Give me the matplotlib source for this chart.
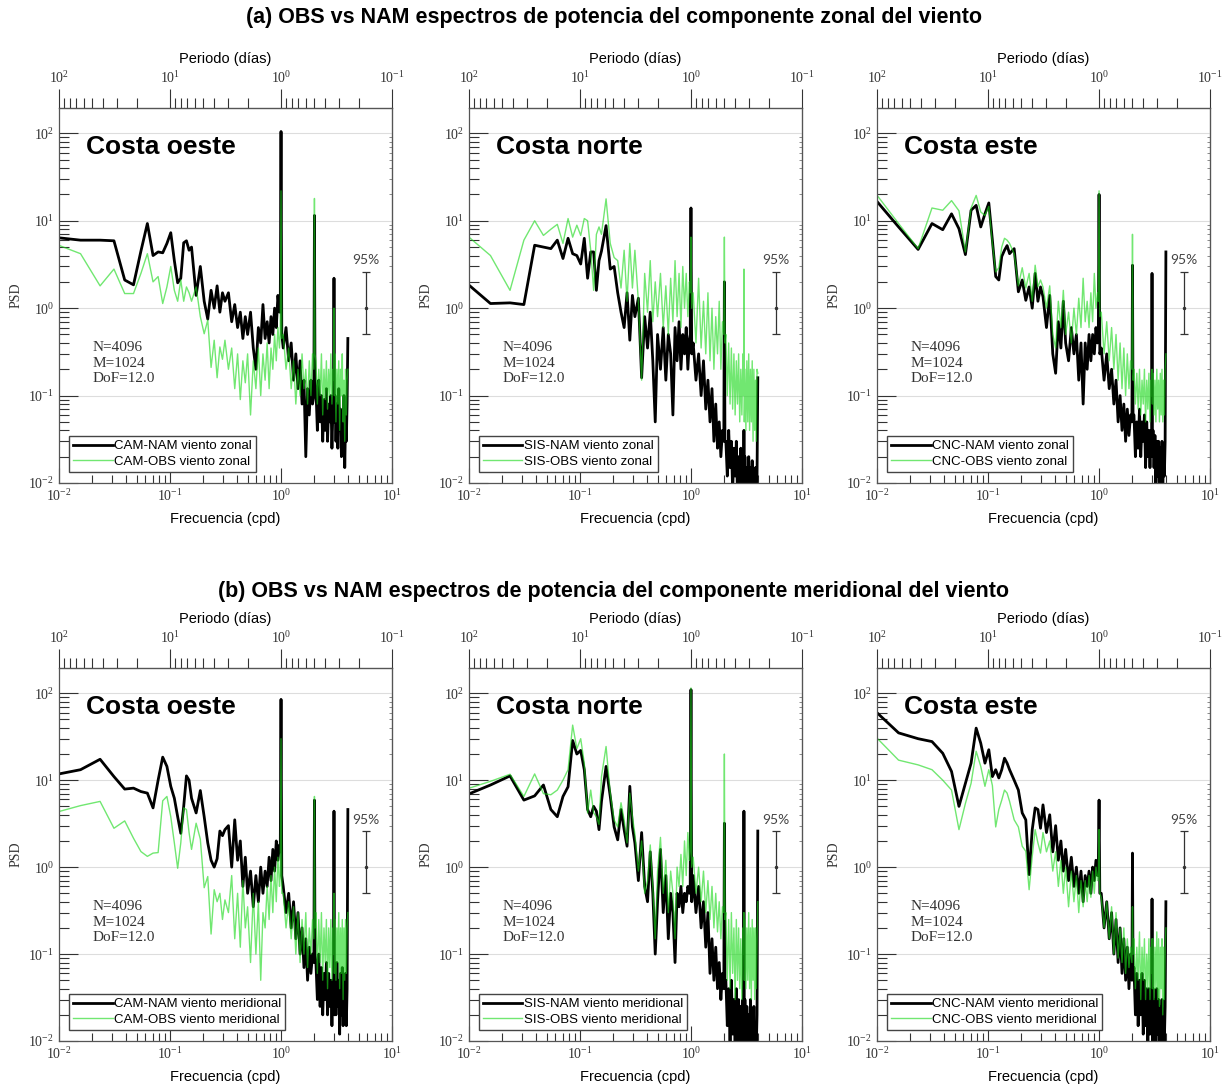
import numpy as np
import matplotlib.pyplot as plt
from matplotlib.ticker import NullFormatter, FixedLocator

plt.rcParams['font.family'] = 'Liberation Serif'
plt.rcParams['mathtext.fontset'] = 'stix'

SANS = 'Liberation Sans'

# spectral bins k/128 cpd (segments of M=1024 samples, 8 samples per day)
K = np.r_[1:21, 22:41:2,
          [43, 46, 49, 52, 55, 58, 61, 64, 68, 72, 76, 80, 84, 88, 92, 96, 100, 104, 108, 112, 116, 120, 124],
          126, 128, 130, 134:247:8, 253, 256, 259, 264:377:8, 381, 384, 387, 392:513:8]
freq = K / 128.0

# --- zonal wind -------------------------------------------------------------
cam_nam_u = [6.6, 6.0, 6.0, 5.9, 2.1, 1.85, 4.5, 9.3, 4.0, 4.4, 4.3, 5.5, 7.3, 3.5, 1.95, 2.2, 5.6, 5.9, 4.6, 5.0,
             1.4, 3.0, 1.2, 0.75, 1.6, 1.0, 1.8, 0.9, 1.5, 1.2,
             1.5, 0.7, 1.1, 0.6, 0.9, 0.45, 0.8, 0.5, 0.9, 0.35, 0.2, 0.6, 0.4, 1.1, 0.45, 0.7, 0.4, 0.8, 0.5, 1.0, 0.6, 1.4, 0.9,
             1.0, 105, 0.5,
             0.35, 0.6, 0.25, 0.4, 0.15, 0.3, 0.12, 0.25, 0.08, 0.15, 0.02, 0.12, 0.06, 0.15, 0.08,
             0.1, 11.5, 0.15,
             0.12, 0.04, 0.15, 0.05, 0.1, 0.03, 0.09, 0.04, 0.12, 0.03, 0.08, 0.05, 0.1, 0.025, 0.07,
             0.06, 2.2, 0.05,
             0.1, 0.03, 0.08, 0.025, 0.12, 0.04, 0.07, 0.02, 0.06, 0.03, 0.1, 0.015, 0.05, 0.03, 0.08, 0.45]
cam_obs_u = [5.9, 4.2, 1.8, 2.8, 1.47, 1.47, 2.5, 4.2, 2.0, 2.3, 1.13, 1.75, 3.0, 1.6, 1.2, 2.1, 1.2, 1.75, 1.5, 1.2,
             1.75, 0.8, 0.51, 0.73, 0.21, 0.43, 0.16, 0.36, 0.26, 0.43,
             0.2, 0.35, 0.12, 0.3, 0.09, 0.25, 0.14, 0.3, 0.06, 0.25, 0.12, 0.35, 0.1, 0.3, 0.15, 0.4, 0.12, 0.35, 0.2, 0.5, 0.25, 0.6, 0.35,
             0.5, 22, 0.45,
             0.5, 0.2, 0.35, 0.12, 0.25, 0.08, 0.2, 0.1, 0.3, 0.12, 0.2, 0.08, 0.25, 0.1, 0.3,
             0.2, 18, 0.3,
             0.25, 0.08, 0.2, 0.1, 0.3, 0.06, 0.2, 0.09, 0.25, 0.07, 0.2, 0.1, 0.3, 0.08, 0.2,
             0.15, 1.0, 0.1,
             0.3, 0.05, 0.2, 0.08, 0.25, 0.04, 0.2, 0.1, 0.3, 0.05, 0.15, 0.03, 0.2, 0.06, 0.15, 0.2]

sis_nam_u = [2.4, 1.13, 1.15, 1.1, 5.25, 5.0, 4.8, 6.0, 3.7, 6.3, 4.2, 4.0, 3.2, 6.3, 2.2, 4.4, 4.4, 1.6, 3.5, 4.5,
             8.8, 2.8, 3.0, 1.5, 0.9, 0.6, 1.5, 0.43, 1.4, 0.8,
             1.3, 0.16, 0.8, 0.35, 0.9, 0.25, 0.05, 0.5, 0.2, 0.6, 0.15, 0.5, 0.3, 0.06, 0.6, 0.25, 0.7, 0.2, 0.5, 0.3, 0.6, 0.2, 0.45,
             0.5, 14, 0.3,
             0.4, 0.15, 0.3, 0.1, 0.25, 0.07, 0.15, 0.05, 0.12, 0.03, 0.08, 0.025, 0.05, 0.02, 0.04,
             0.03, 2.0, 0.03,
             0.03, 0.012, 0.04, 0.015, 0.03, 0.008, 0.025, 0.012, 0.03, 0.007, 0.02, 0.01, 0.025, 0.008, 0.02,
             0.01, 0.04, 0.01,
             0.02, 0.008, 0.015, 0.007, 0.02, 0.009, 0.015, 0.006, 0.018, 0.008, 0.012, 0.006, 0.015, 0.007, 0.012, 0.16]
sis_obs_u = [8.5, 4.0, 1.6, 6.0, 10, 6.8, 8.0, 9.1, 5.5, 10.6, 6.5, 8.9, 6.8, 10.6, 10, 4.6, 1.6, 7.0, 8.5, 7.0,
             17.8, 5.5, 3.8, 3.5, 1.7, 4.6, 1.2, 5.5, 1.7, 4.6,
             1.2, 0.15, 2.5, 0.9, 3.5, 0.7, 2.0, 0.8, 2.5, 0.6, 1.8, 0.5, 2.2, 0.7, 3.5, 0.8, 2.5, 0.6, 3.0, 1.0, 2.5, 0.8, 2.0,
             1.5, 6.5, 1.0,
             1.5, 0.4, 2.2, 0.35, 1.2, 0.3, 1.5, 0.25, 1.0, 0.2, 0.8, 0.3, 1.2, 0.2, 0.7,
             0.5, 6.5, 0.4,
             0.5, 0.1, 0.4, 0.08, 0.35, 0.07, 0.3, 0.06, 0.25, 0.08, 0.3, 0.05, 0.2, 0.06, 0.3,
             0.1, 2.8, 0.05,
             0.2, 0.04, 0.25, 0.05, 0.3, 0.04, 0.2, 0.05, 0.25, 0.03, 0.2, 0.04, 0.15, 0.03, 0.2, 0.18]

cnc_nam_u = [24, 8.5, 4.7, 9.3, 7.9, 12, 8.1, 4.1, 13.2, 15, 8.5, 12, 16, 6.0, 2.3, 2.1, 3.9, 4.6, 5.2, 4.2,
             4.8, 1.54, 2.1, 1.23, 1.75, 1.0, 2.5, 1.2, 1.75, 1.35,
             0.6, 1.4, 0.3, 0.18, 0.7, 0.35, 1.2, 0.4, 0.25, 0.6, 0.3, 0.5, 0.15, 0.4, 0.08, 0.4, 0.2, 0.5, 0.25, 0.5, 0.3, 0.6, 0.4,
             0.5, 20, 0.3,
             0.35, 0.15, 0.3, 0.12, 0.2, 0.08, 0.15, 0.05, 0.1, 0.04, 0.08, 0.03, 0.07, 0.035, 0.06,
             0.05, 3.1, 0.06,
             0.06, 0.02, 0.05, 0.025, 0.07, 0.02, 0.05, 0.03, 0.06, 0.015, 0.05, 0.02, 0.04, 0.015, 0.04,
             0.03, 2.5, 0.02,
             0.04, 0.015, 0.035, 0.01, 0.03, 0.012, 0.03, 0.008, 0.025, 0.01, 0.03, 0.009, 0.02, 0.012, 0.03, 4.4]
cnc_obs_u = [29.5, 9.3, 4.8, 14, 13.2, 17, 13, 4.4, 14, 19.5, 12.6, 11.5, 14.6, 5.5, 2.6, 2.9, 5.0, 6.3, 6.0, 5.5,
             4.2, 1.8, 2.9, 1.7, 2.5, 1.2, 3.1, 1.75, 2.1, 1.75,
             1.0, 1.8, 0.5, 0.35, 1.2, 0.6, 1.6, 0.5, 0.9, 0.4, 1.0, 0.5, 1.3, 0.6, 2.2, 0.7, 1.2, 0.6, 1.5, 0.7, 2.5, 1.0, 1.5,
             1.2, 22, 0.8,
             0.9, 0.3, 0.7, 0.25, 0.6, 0.2, 0.5, 0.15, 0.4, 0.12, 0.35, 0.1, 0.3, 0.12, 0.25,
             0.2, 7.0, 0.15,
             0.2, 0.08, 0.18, 0.07, 0.2, 0.06, 0.15, 0.08, 0.2, 0.05, 0.15, 0.07, 0.18, 0.05, 0.15,
             0.1, 0.2, 0.08,
             0.18, 0.06, 0.15, 0.05, 0.2, 0.07, 0.15, 0.05, 0.18, 0.06, 0.2, 0.05, 0.15, 0.06, 0.2, 0.3]

# --- meridional wind --------------------------------------------------------
cam_nam_v = [11.1, 13.2, 17.4, 11, 7.9, 8.1, 7.4, 7.1, 4.8, 10, 18.4, 14.4, 8.5, 6.2, 3.8, 2.45, 5.0, 11.2, 10, 6.2,
             4.2, 7.6, 3.8, 1.9, 1.2, 1.0, 1.25, 2.6, 2.3, 2.7,
             3.0, 1.0, 3.5, 1.2, 2.0, 0.6, 1.3, 0.5, 0.9, 0.35, 0.8, 0.4, 1.0, 0.5, 0.9, 0.6, 1.3, 0.7, 1.6, 0.9, 2.0, 1.2, 1.8,
             1.5, 85, 0.8,
             0.6, 0.3, 0.5, 0.2, 0.4, 0.15, 0.3, 0.1, 0.2, 0.07, 0.15, 0.05, 0.12, 0.06, 0.1,
             0.08, 5.9, 0.1,
             0.08, 0.03, 0.1, 0.025, 0.07, 0.02, 0.06, 0.03, 0.08, 0.02, 0.06, 0.025, 0.05, 0.015, 0.05,
             0.03, 4.4, 0.02,
             0.06, 0.02, 0.08, 0.025, 0.05, 0.012, 0.06, 0.02, 0.07, 0.015, 0.05, 0.02, 0.06, 0.015, 0.04, 4.6]
cam_obs_v = [4.0, 5.1, 5.7, 2.8, 3.4, 2.15, 1.51, 1.33, 1.45, 1.47, 5.8, 6.5, 3.8, 1.9, 0.97, 1.9, 4.8, 4.6, 2.5, 1.6,
             3.2, 2.1, 0.58, 0.78, 0.17, 0.55, 0.4, 0.5, 0.25, 0.42,
             0.3, 0.8, 0.15, 0.5, 0.12, 0.7, 0.2, 0.35, 0.08, 0.5, 0.1, 0.4, 0.05, 0.3, 0.2, 0.6, 0.25, 0.8, 0.3, 1.0, 0.4, 1.3, 0.6,
             0.8, 30, 0.5,
             0.5, 0.2, 0.4, 0.15, 0.35, 0.1, 0.3, 0.08, 0.25, 0.1, 0.3, 0.07, 0.2, 0.1, 0.25,
             0.15, 6.5, 0.2,
             0.3, 0.06, 0.25, 0.08, 0.3, 0.05, 0.2, 0.08, 0.25, 0.04, 0.2, 0.07, 0.25, 0.05, 0.2,
             0.1, 0.5, 0.06,
             0.25, 0.05, 0.2, 0.08, 0.3, 0.04, 0.2, 0.06, 0.25, 0.03, 0.2, 0.05, 0.25, 0.06, 0.2, 0.3]

sis_nam_v = [6.1, 8.8, 11.2, 5.9, 6.6, 8.8, 4.6, 3.8, 6.5, 8.4, 28.6, 20, 22, 13.2, 4.6, 3.8, 5.0, 4.4, 2.7, 5.7,
             14.4, 6.5, 2.9, 2.06, 4.6, 2.7, 1.74, 8.5, 2.9, 1.9,
             0.7, 2.5, 0.6, 0.4, 1.5, 0.5, 0.1, 0.4, 1.6, 0.3, 0.8, 0.15, 0.5, 0.3, 0.08, 0.5, 0.35, 0.6, 0.3, 0.5, 0.4, 0.6, 0.5,
             0.6, 110, 0.4,
             0.8, 0.3, 0.6, 0.2, 0.4, 0.12, 0.3, 0.06, 0.15, 0.05, 0.12, 0.04, 0.08, 0.03, 0.06,
             0.04, 3.2, 0.05,
             0.05, 0.015, 0.04, 0.01, 0.05, 0.012, 0.03, 0.008, 0.04, 0.01, 0.03, 0.008, 0.025, 0.01, 0.03,
             0.01, 4.4, 0.008,
             0.03, 0.008, 0.025, 0.006, 0.02, 0.007, 0.03, 0.005, 0.02, 0.007, 0.025, 0.006, 0.015, 0.008, 0.02, 2.6]
sis_obs_v = [7.3, 9.7, 11.7, 6.5, 11.8, 7.0, 6.8, 7.7, 10, 13.2, 43, 23, 30, 15.7, 4.2, 7.7, 4.2, 3.8, 3.1, 11,
             24.4, 7.1, 3.5, 2.9, 5.5, 3.5, 1.9, 7.1, 3.8, 2.4,
             0.9, 2.0, 0.5, 0.7, 1.8, 0.6, 0.15, 0.9, 2.2, 0.5, 1.2, 0.3, 0.9, 0.5, 0.15, 1.0, 0.6, 1.4, 0.6, 2.0, 0.8, 2.5, 1.2,
             1.5, 115, 1.0,
             1.3, 0.5, 1.0, 0.4, 0.9, 0.3, 0.7, 0.25, 0.6, 0.2, 0.5, 0.18, 0.4, 0.15, 0.35,
             0.3, 20, 0.25,
             0.3, 0.05, 0.25, 0.04, 0.3, 0.06, 0.2, 0.03, 0.25, 0.05, 0.2, 0.04, 0.15, 0.03, 0.2,
             0.1, 0.3, 0.05,
             0.25, 0.04, 0.2, 0.05, 0.3, 0.04, 0.2, 0.03, 0.25, 0.05, 0.2, 0.03, 0.2, 0.04, 0.15, 0.4]

cnc_nam_v = [80, 35, 30, 27.8, 20.4, 12.6, 5.0, 9.2, 15.7, 39.7, 26.6, 15.7, 22.4, 11, 13.2, 10.6, 13.2, 17.9, 15.7, 13.2,
             10, 7.7, 4.2, 3.5, 0.82, 2.7, 4.8, 4.6, 2.8, 5.2,
             2.5, 4.0, 1.5, 3.0, 1.2, 2.0, 0.9, 1.6, 0.7, 1.3, 0.6, 1.0, 0.5, 0.9, 0.4, 0.8, 0.6, 0.9, 0.5, 1.0, 0.7, 1.2, 0.8,
             1.0, 5.9, 0.5,
             0.5, 0.2, 0.4, 0.15, 0.3, 0.1, 0.25, 0.08, 0.2, 0.06, 0.15, 0.05, 0.12, 0.04, 0.1,
             0.05, 1.45, 0.06,
             0.07, 0.02, 0.06, 0.015, 0.05, 0.02, 0.06, 0.012, 0.05, 0.015, 0.04, 0.01, 0.04, 0.012, 0.03,
             0.015, 0.43, 0.01,
             0.04, 0.01, 0.03, 0.008, 0.04, 0.012, 0.03, 0.007, 0.025, 0.01, 0.03, 0.008, 0.02, 0.01, 0.025, 0.4]
cnc_obs_v = [42, 17, 15, 13.2, 10, 7.7, 2.7, 5.4, 9.2, 21.5, 14.4, 8.5, 13.2, 8.7, 2.9, 4.6, 5.9, 7.7, 7.1, 5.7,
             3.5, 2.9, 1.74, 1.52, 0.55, 1.33, 2.7, 1.9, 1.45, 2.5,
             1.5, 2.0, 0.9, 1.5, 0.6, 1.2, 0.5, 1.0, 0.35, 0.9, 0.4, 0.8, 0.3, 0.7, 0.35, 0.7, 0.4, 0.8, 0.45, 0.9, 0.5, 1.0, 0.7,
             0.8, 2.7, 0.5,
             0.45, 0.2, 0.4, 0.15, 0.35, 0.1, 0.3, 0.09, 0.2, 0.08, 0.2, 0.06, 0.15, 0.07, 0.12,
             0.08, 0.35, 0.1,
             0.15, 0.04, 0.12, 0.05, 0.18, 0.03, 0.12, 0.05, 0.15, 0.03, 0.1, 0.04, 0.15, 0.03, 0.12,
             0.06, 0.15, 0.04,
             0.15, 0.03, 0.12, 0.04, 0.18, 0.03, 0.15, 0.025, 0.12, 0.04, 0.15, 0.02, 0.12, 0.03, 0.1, 0.2]

stations = ['CAM', 'SIS', 'CNC']
coasts = ['Costa oeste', 'Costa norte', 'Costa este']
components = ['zonal', 'meridional']
row_titles = ['(a) OBS vs NAM espectros de potencia del componente zonal del viento',
              '(b) OBS vs NAM espectros de potencia del componente meridional del viento']
nam_series = [[cam_nam_u, sis_nam_u, cnc_nam_u], [cam_nam_v, sis_nam_v, cnc_nam_v]]
obs_series = [[cam_obs_u, sis_obs_u, cnc_obs_u], [cam_obs_v, sis_obs_v, cnc_obs_v]]

# 95% confidence interval for DoF=12, drawn around PSD=1
ci_freq = 5.8
ci_low, ci_mid, ci_high = 0.51, 1.0, 2.6
stats_text = 'N=4096\nM=1024\nDoF=12.0'
period_ticks = [100, 10, 1, 0.1]

OBS_COLOR = (0.1, 0.85, 0.1)
TXT = '#333333'


def inv(x):
    x = np.asarray(x, dtype=float)
    with np.errstate(divide='ignore'):
        return 1.0 / x


fig = plt.figure(figsize=(12.27, 10.91), dpi=100)
lefts = [0.0481, 0.3822, 0.7148]
bottoms = [0.5573, 0.0458]
width = 0.2714
heights = [0.3437, 0.3419]

for r in range(2):
    for c in range(3):
        ax = fig.add_axes([lefts[c], bottoms[r], width, heights[r]])
        ax.set_xscale('log')
        ax.set_yscale('log')

        ax.plot(freq, nam_series[r][c], color='black', lw=2.0,
                label=f'{stations[c]}-NAM viento {components[r]}')
        ax.plot(freq, obs_series[r][c], color=OBS_COLOR, alpha=0.62, lw=1.0,
                label=f'{stations[c]}-OBS viento {components[r]}')

        ax.set_xlim(1e-2, 1e1)
        ax.set_ylim(1e-2, 195)
        ax.yaxis.grid(True, which='major', color='#dddddd', lw=0.8)
        ax.set_axisbelow(True)

        for sp in ax.spines.values():
            sp.set_color('#555555')
            sp.set_linewidth(0.9)

        ax.tick_params(which='both', direction='in', width=0.8, colors=TXT,
                       labelsize=10, top=False, right=False)
        ax.tick_params(axis='x', which='major', length=11)
        ax.tick_params(axis='x', which='minor', length=6)
        ax.tick_params(axis='y', which='major', length=14)
        ax.tick_params(axis='y', which='minor', length=7)
        ax.xaxis.set_minor_formatter(NullFormatter())
        ax.yaxis.set_minor_formatter(NullFormatter())

        # period axis on top
        sec = ax.secondary_xaxis('top', functions=(inv, inv))
        sec.xaxis.set_major_locator(FixedLocator(period_ticks))
        sec.tick_params(which='both', direction='out', width=0.8, colors=TXT,
                        labelsize=10, pad=2)
        sec.tick_params(which='major', length=14)
        sec.tick_params(which='minor', length=7)
        sec.xaxis.set_minor_formatter(NullFormatter())
        sec.set_xlabel('Periodo (días)', fontfamily=SANS, fontsize=10.5,
                       color='black', labelpad=5)

        # short ticks on the right edge
        ry = ax.secondary_yaxis('right')
        ry.tick_params(which='both', direction='in', width=0.6,
                       colors='#777777', labelright=False)
        ry.tick_params(which='major', length=3)
        ry.tick_params(which='minor', length=2)
        ry.yaxis.set_minor_formatter(NullFormatter())
        ry.spines['right'].set_color('#555555')

        ax.set_xlabel('Frecuencia (cpd)', fontfamily=SANS, fontsize=10.5, labelpad=6)
        ax.set_ylabel('PSD', fontsize=10, color=TXT, labelpad=4)

        ax.text(0.08, 0.895, coasts[c], transform=ax.transAxes, fontfamily=SANS,
                fontweight='bold', fontsize=19, va='center', ha='left')
        ax.text(0.1, 0.378, stats_text, transform=ax.transAxes, fontsize=11,
                color=TXT, va='top', ha='left', linespacing=1.25)

        ax.errorbar([ci_freq], [ci_mid], yerr=[[ci_mid - ci_low], [ci_high - ci_mid]],
                    fmt='.', color='#333333', ms=3, capsize=3, elinewidth=0.9,
                    capthick=0.9)
        ax.text(ci_freq, 3.0, '95%', ha='center', va='bottom', fontfamily='Lato',
                fontsize=10, color='#444444')

        ax.legend(loc='lower left', bbox_to_anchor=(0.03, 0.03), borderaxespad=0,
                  prop={'family': SANS, 'size': 9.5}, fancybox=False,
                  edgecolor='#444444', framealpha=1, handlelength=3.0,
                  handletextpad=0.1, borderpad=0.3, labelspacing=0.25)

fig.text(0.5, 1 - 17 / 1091, row_titles[0], ha='center', va='center',
         fontfamily=SANS, fontweight='bold', fontsize=15.5)
fig.text(0.5, 1 - 591 / 1091, row_titles[1], ha='center', va='center',
         fontfamily=SANS, fontweight='bold', fontsize=15.5)

fig.savefig('out.png', dpi=100)
